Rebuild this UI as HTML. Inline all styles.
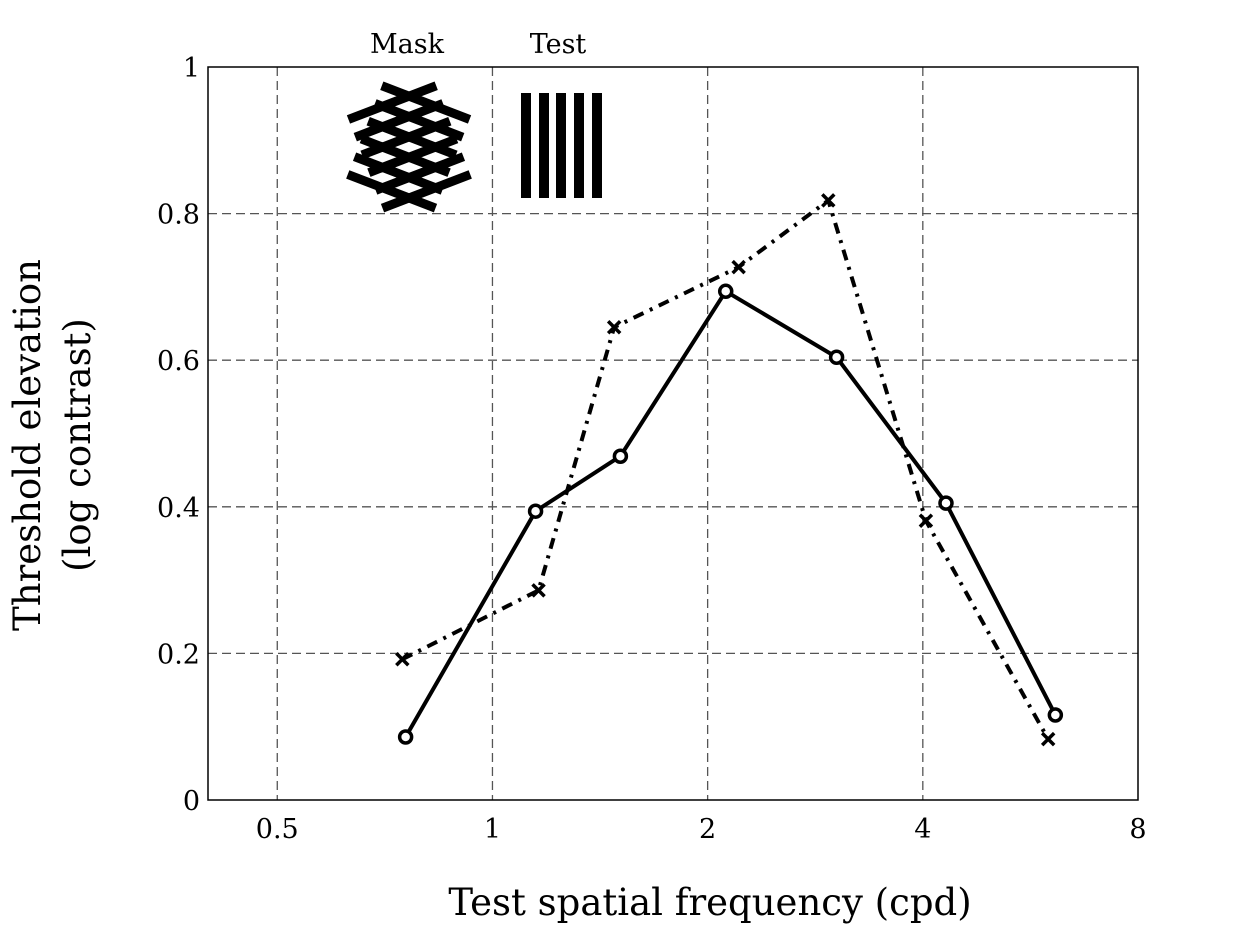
<!DOCTYPE html>
<html><head><meta charset="utf-8"><style>
body{margin:0;background:#fff}
svg text{font-family:"DejaVu Serif","Liberation Serif",serif;fill:#000}
</style></head><body>
<svg id="chart" width="1252" height="927" viewBox="0 0 1252 927" xmlns="http://www.w3.org/2000/svg">
<g id="grid"></g>
<g id="icons">
  <text x="407" y="53" font-size="27" text-anchor="middle">Mask</text>
  <text x="558" y="53" font-size="27" text-anchor="middle">Test</text>
  <g transform="rotate(21 409 146)">
    <rect x="362" y="95" width="94" height="9"/><rect x="362" y="114" width="94" height="9"/><rect x="362" y="133" width="94" height="9"/><rect x="362" y="152" width="94" height="9"/><rect x="362" y="171" width="94" height="9"/><rect x="362" y="190" width="94" height="9"/>
  </g>
  <g transform="rotate(-21 409 146)">
    <rect x="362" y="95" width="94" height="9"/><rect x="362" y="114" width="94" height="9"/><rect x="362" y="133" width="94" height="9"/><rect x="362" y="152" width="94" height="9"/><rect x="362" y="171" width="94" height="9"/><rect x="362" y="190" width="94" height="9"/>
  </g>
  <g>
    <rect x="521" y="93" width="10" height="105"/><rect x="539" y="93" width="10" height="105"/><rect x="556" y="93" width="10" height="105"/><rect x="574" y="93" width="10" height="105"/><rect x="592" y="93" width="10" height="105"/>
  </g>
</g>
<g id="series"></g>
<rect x="208" y="67" width="930" height="733" fill="none" stroke="#000" stroke-width="1.5"/>
<g id="ticks"></g>
<text x="710" y="915" font-size="37" text-anchor="middle">Test spatial frequency (cpd)</text>
<g transform="translate(40 445) rotate(-90)">
  <text x="0" y="0" font-size="37" text-anchor="middle">Threshold elevation</text>
  <text x="0" y="50" font-size="37" text-anchor="middle">(log contrast)</text>
</g>
</svg>
<script>
const xTicks=[0.5,1,2,4,8];
const xTickLabels=["0.5","1","2","4","8"];
const yTicks=[0,0.2,0.4,0.6,0.8,1];
const yTickLabels=["0","0.2","0.4","0.6","0.8","1"];
const circleX=[0.756,1.149,1.51,2.12,3.03,4.31,6.13];
const circleY=[0.086,0.394,0.469,0.694,0.604,0.405,0.116];
const crossX=[0.748,1.16,1.48,2.21,2.95,4.04,5.99];
const crossY=[0.192,0.286,0.645,0.727,0.818,0.381,0.083];

const NS="http://www.w3.org/2000/svg";
const L=208,R=1138,T=67,B=800;
const xMin=Math.log2(0.4),xMax=3;
function sx(v){return L+(Math.log2(v)-xMin)/(xMax-xMin)*(R-L);}
function sy(v){return B-v*(B-T);}
function mk(tag,attrs,parent){const e=document.createElementNS(NS,tag);for(const k in attrs)e.setAttribute(k,attrs[k]);parent.appendChild(e);return e;}
const grid=document.getElementById('grid'),ticks=document.getElementById('ticks'),series=document.getElementById('series');
xTicks.forEach((v,i)=>{const x=sx(v);
  if(v<8){const g=mk('line',{x1:x,x2:x,y1:T,y2:B,stroke:'#555','stroke-width':1.3,'stroke-dasharray':'9 5'},grid);
  }
  const t=mk('text',{x:x,y:838,'font-size':27,'text-anchor':'middle'},ticks);t.textContent=xTickLabels[i];
  });
yTicks.forEach((v,i)=>{const y=sy(v);
  if(v>0&&v<1){const g=mk('line',{x1:L,x2:R,y1:y,y2:y,stroke:'#555','stroke-width':1.3,'stroke-dasharray':'9 5'},grid);
  }
  const t=mk('text',{x:200,y:y+10,'font-size':27,'text-anchor':'end'},ticks);t.textContent=yTickLabels[i];
  });
function pts(xs,ys){return xs.map((x,i)=>sx(x)+','+sy(ys[i])).join(' ');}
const cl=mk('polyline',{points:pts(crossX,crossY),fill:'none',stroke:'#000','stroke-width':4,'stroke-dasharray':'11 7 3 7'},series);

const ol=mk('polyline',{points:pts(circleX,circleY),fill:'none',stroke:'#000','stroke-width':4},series);

crossX.forEach((v,i)=>{const x=sx(v),y=sy(crossY[i]);
  const p=mk('path',{d:`M${x-6},${y-6}L${x+6},${y+6}M${x-6},${y+6}L${x+6},${y-6}`,stroke:'#000','stroke-width':3.5},series);
  });
circleX.forEach((v,i)=>{const c=mk('circle',{cx:sx(v),cy:sy(circleY[i]),r:6,fill:'#fff',stroke:'#000','stroke-width':3.5},series);
  });
</script>
</body></html>
